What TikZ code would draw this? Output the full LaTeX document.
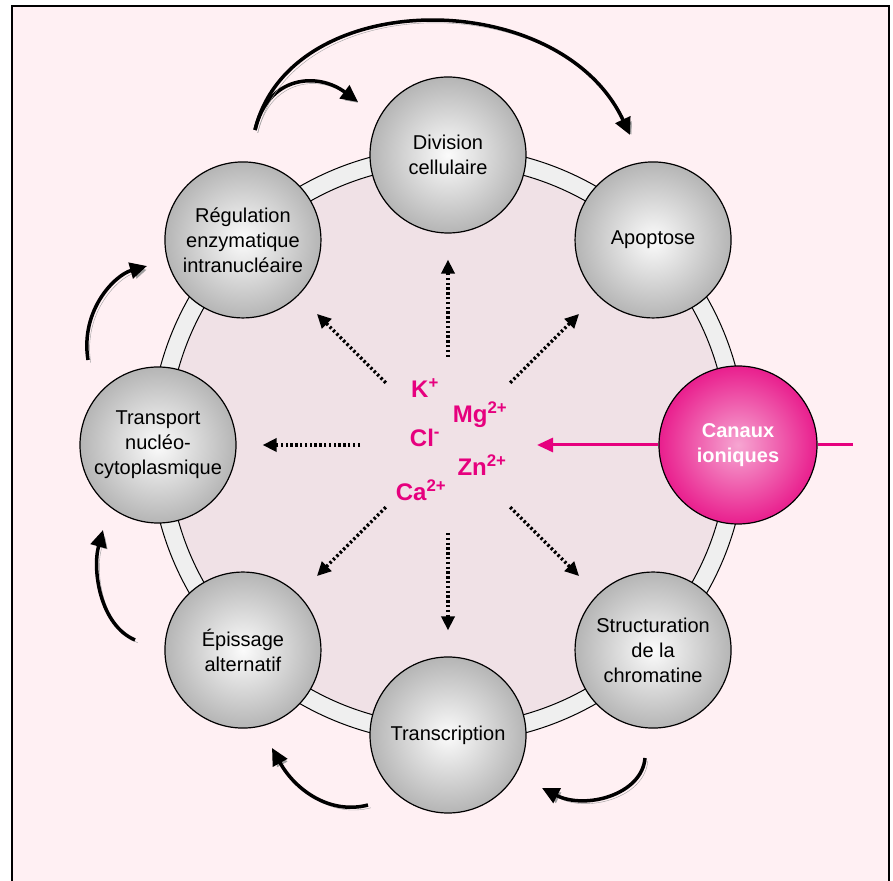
\documentclass[tikz,border=0pt]{standalone}
\usepackage{fontspec}
\setmainfont{Liberation Sans}
\usepackage{tikz}
\usetikzlibrary{arrows.meta,calc,positioning}
\definecolor{bgpink}{HTML}{FFF0F3}
\definecolor{discpink}{HTML}{F0E1E6}
\definecolor{bandgray}{HTML}{EFEFEF}
\definecolor{ionmag}{HTML}{E6007E}
\tikzset{
  cell/.style={circle, draw=black, line width=1.2pt, minimum size=156pt, inner sep=0pt,
    align=center, font=\fontsize{20}{25}\selectfont, inner color=gray!3, outer color=gray!58},
  canal/.style={cell, minimum size=158pt, inner color=ionmag!35, outer color=ionmag!88,
    text=white, font=\fontsize{20}{25}\selectfont\bfseries},
  ion/.style={text=ionmag, font=\fontsize{24}{27}\selectfont\bfseries, inner sep=0pt},
  ray/.style={line width=3.5pt, dash pattern=on 2.4pt off 2.4pt, -{Triangle[length=14pt,width=13pt]},
    shorten <=88pt, shorten >=26pt},
  cyc/.style={line width=3.5pt, -{Triangle[length=17pt,width=16pt]},
    preaction={draw=black!38, transform canvas={xshift=2.8pt, yshift=-2.8pt}}},
  magline/.style={draw=ionmag, line width=3pt}
}
\begin{document}
\begin{tikzpicture}[x=1pt,y=1pt]
\useasboundingbox (0,0) rectangle (893,880);
\draw[fill=bgpink, line width=1.5pt] (12,-10) rectangle (889,874);
\coordinate (ctr) at (448,435);
\filldraw[fill=bandgray, line width=1pt] (ctr) circle (298pt);
\filldraw[fill=discpink, line width=1pt] (ctr) circle (280pt);
\coordinate (inlet) at (853,435);
% cellular processes around the ring
\node[cell] (div) at ($(ctr)+(90:290pt)$) {Division\\cellulaire};
\node[cell] (apo) at ($(ctr)+(45:290pt)$) {Apoptose};
\node[canal] (can) at ($(ctr)+(0:290pt)$) {Canaux\\ioniques};
\node[cell] (struc) at ($(ctr)+(-45:290pt)$) {Structuration\\de la\\chromatine};
\node[cell] (trans) at ($(ctr)+(-90:290pt)$) {Transcription};
\node[cell] (epis) at ($(ctr)+(-135:290pt)$) {Épissage\\alternatif};
\node[cell] (transp) at ($(ctr)+(180:290pt)$) {Transport\\nucléo-\\cytoplasmique};
\node[cell] (regul) at ($(ctr)+(135:290pt)$) {Régulation\\enzymatique\\intranucléaire};
\draw[magline] (can.east) -- (inlet);
\draw[magline, -{Triangle[length=16pt,width=14pt]}, shorten >=89pt] (can.west) -- (ctr);
% ions
\node[ion] (k) at ($(ctr)+(-23,57)$) {K\textsuperscript{+}};
\node[ion] (mg) at ($(ctr)+(32,30)$) {Mg\textsuperscript{2+}};
\node[ion] (cl) at ($(ctr)+(-23,7)$) {Cl\textsuperscript{-}};
\node[ion] (zn) at ($(ctr)+(34,-20)$) {Zn\textsuperscript{2+}};
\node[ion] (ca) at ($(ctr)+(-27,-45)$) {Ca\textsuperscript{2+}};
\foreach \n in {div,apo,struc,trans,epis,transp,regul}
  \draw[ray] (ctr) -- (\n);
% cycle arrows
\coordinate (a1) at (255,750);
\coordinate (a2) at (358,778);
\coordinate (a3) at (630,745);
\coordinate (b1) at (88,520);
\coordinate (b2) at (147,614);
\coordinate (c1) at (135,240);
\coordinate (c2) at (103,350);
\coordinate (d1) at (368,75);
\coordinate (d2) at (272,132);
\coordinate (e1) at (645,122);
\coordinate (e2) at (542,92);
\draw[cyc] (a1) .. controls (268,805) and (318,808) .. (a2);
\draw[cyc] (a1) .. controls (290,895) and (560,895) .. (a3);
\draw[cyc] (b1) .. controls (80,570) and (115,605) .. (b2);
\draw[cyc] (c1) .. controls (100,255) and (92,310) .. (c2);
\draw[cyc] (d1) .. controls (330,65) and (295,90) .. (d2);
\draw[cyc] (e1) .. controls (642,85) and (585,70) .. (e2);
\end{tikzpicture}
\end{document}
